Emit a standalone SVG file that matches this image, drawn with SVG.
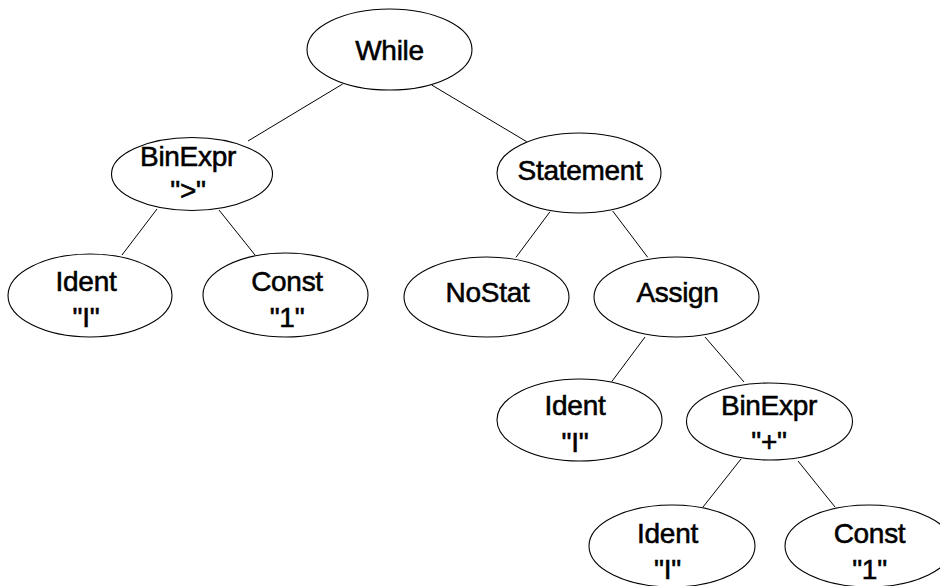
<svg xmlns="http://www.w3.org/2000/svg" width="940" height="586" viewBox="0 0 940 586">
  <style>
    .node ellipse { fill: #ffffff; stroke: #000000; stroke-width: 1.1; }
    .node text { font-family: "Liberation Sans", Arial, Helvetica, sans-serif; font-size: 28px; fill: #000000; stroke: #000000; stroke-width: 0.55; letter-spacing: -0.3px; text-anchor: middle; }
    #edges line { stroke: #000000; stroke-width: 1; }
  </style>
  <rect width="940" height="586" fill="#ffffff"/>

  <!-- tree edges -->
  <g id="edges">
    <line x1="342.7" y1="84" x2="248" y2="141"/>
    <line x1="431.7" y1="85" x2="526.7" y2="141.7"/>
    <line x1="157" y1="209" x2="122" y2="255"/>
    <line x1="219" y1="210" x2="255" y2="255"/>
    <line x1="550" y1="211.7" x2="516" y2="257.3"/>
    <line x1="612.7" y1="211" x2="647.7" y2="257.3"/>
    <line x1="645" y1="337" x2="611.7" y2="381.7"/>
    <line x1="705" y1="337" x2="744" y2="382"/>
    <line x1="741" y1="459" x2="703" y2="507"/>
    <line x1="798" y1="461" x2="835" y2="507"/>
  </g>

  <g id="while" class="node">
    <ellipse cx="389.5" cy="49.5" rx="82.5" ry="40.5"/>
    <text x="389.5" y="60">While</text>
  </g>
  <g id="binexpr-gt" class="node">
    <ellipse cx="192" cy="174" rx="80.5" ry="36.5"/>
    <text x="188" y="166">BinExpr</text>
    <text x="188" y="200">"&gt;"</text>
  </g>
  <g id="statement" class="node">
    <ellipse cx="579" cy="173" rx="82" ry="40"/>
    <text x="580" y="180">Statement</text>
  </g>
  <g id="ident-1" class="node">
    <ellipse cx="90" cy="295.5" rx="82" ry="41.5"/>
    <text x="86" y="291">Ident</text>
    <text x="86" y="327">"I"</text>
  </g>
  <g id="const-1" class="node">
    <ellipse cx="285.5" cy="295" rx="82.5" ry="42"/>
    <text x="287" y="291">Const</text>
    <text x="287" y="327">"1"</text>
  </g>
  <g id="nostat" class="node">
    <ellipse cx="486.5" cy="297" rx="82.5" ry="40"/>
    <text x="487.5" y="302">NoStat</text>
  </g>
  <g id="assign" class="node">
    <ellipse cx="676.5" cy="297" rx="82.5" ry="40"/>
    <text x="677.5" y="302">Assign</text>
  </g>
  <g id="ident-2" class="node">
    <ellipse cx="579.5" cy="420" rx="82.5" ry="41"/>
    <text x="575" y="415">Ident</text>
    <text x="575" y="452">"I"</text>
  </g>
  <g id="binexpr-plus" class="node">
    <ellipse cx="769.5" cy="421.5" rx="83" ry="38.5"/>
    <text x="769" y="415">BinExpr</text>
    <text x="769" y="451">"+"</text>
  </g>
  <g id="ident-3" class="node">
    <ellipse cx="672" cy="546" rx="83" ry="41"/>
    <text x="667.5" y="543">Ident</text>
    <text x="667.5" y="579">"I"</text>
  </g>
  <g id="const-2" class="node">
    <ellipse cx="869" cy="546" rx="84" ry="41"/>
    <text x="869.5" y="543">Const</text>
    <text x="869.5" y="579">"1"</text>
  </g>
</svg>
